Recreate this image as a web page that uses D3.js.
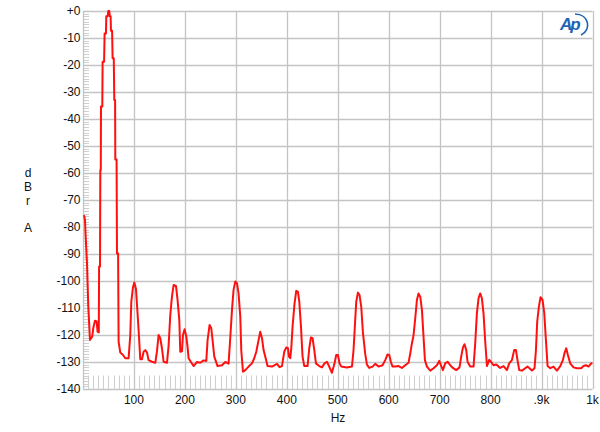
<!DOCTYPE html>
<html>
<head>
<meta charset="utf-8">
<script src="https://cdn.jsdelivr.net/npm/d3@7"></script>
<style>
  body { margin: 0; background: #fff; }
  text { font-family: "Liberation Sans", Arial, sans-serif; }
</style>
</head>
<body>
<svg id="chart" width="600" height="432"></svg>
<script>
// Frequencies (Hz) of the trace
const freqs = [2.0,3.9,5.1,7.8,10.4,13.7,18.2,20.2,23.5,26.7,28.6,31.0,31.6,33.4,34.0,34.9,35.3,37.9,38.5,41.4,42.4,45.1,45.7,48.6,49.6,51.6,52.6,54.2,54.9,57.1,58.1,60.4,61.4,63.0,63.4,65.9,66.7,68.9,69.9,73.2,78.5,83.0,89.5,92.8,94.8,98.1,100.7,104.0,106.0,109.1,112.4,115.8,118.9,122.3,125.6,128.7,135.4,141.9,145.2,148.4,151.7,155.0,158.2,164.8,168.0,171.3,174.6,177.8,182.5,185.6,189.0,190.9,194.3,196.2,199.4,202.7,205.3,207.2,211.9,217.0,223.7,230.2,236.7,242.0,244.5,248.4,251.8,254.3,257.7,264.1,272.8,279.2,285.7,289.0,292.4,295.5,298.9,302.2,305.3,308.7,310.6,314.0,318.5,325.0,331.6,336.1,340.1,344.6,347.9,351.3,354.4,357.7,362.2,370.9,380.7,385.8,390.5,395.0,398.9,402.3,404.2,406.8,408.8,411.3,415.2,418.6,421.9,424.5,427.8,430.9,434.3,440.7,444.1,447.4,450.6,453.9,457.2,463.7,469.0,474.1,478.8,483.3,488.6,493.7,497.0,500.4,503.5,506.9,518.0,527.9,531.0,534.3,536.3,539.6,542.8,546.1,549.4,553.9,557.3,561.8,568.3,573.6,580.1,587.9,593.2,597.7,601.1,604.4,607.5,612.8,619.3,626.0,632.4,638.9,642.3,645.6,648.7,652.1,655.4,658.5,661.9,665.2,668.4,671.1,675.0,681.5,688.0,694.6,699.2,702.5,706.4,710.9,715.5,720.8,726.0,732.5,739.0,742.3,745.7,748.8,752.2,754.7,760.0,766.5,769.8,773.1,776.3,779.6,782.9,786.1,789.4,792.8,797.3,801.2,805.7,811.0,815.5,818.9,825.4,832.0,836.5,841.8,846.3,849.7,852.8,856.2,861.4,867.9,872.4,876.4,881.1,886.2,889.0,891.5,894.8,898.0,901.9,905.3,908.6,911.8,917.1,923.5,930.1,936.7,941.9,945.1,948.4,951.7,956.2,962.7,969.4,977.8,982.3,987.0,992.2,997.4,1000.0];
// Levels (dBrA) of the trace
const levels = [-75.6,-77.4,-83.0,-93.3,-109.5,-121.8,-120.5,-117.4,-114.7,-115.0,-118.8,-119.0,-94.6,-94.6,-58.9,-58.9,-35.4,-35.4,-18.8,-18.8,-8.3,-8.3,-1.9,-1.9,0,0,-1.9,-1.9,-7.3,-7.3,-17.5,-17.5,-33.0,-33.0,-55.0,-55.0,-89.8,-89.8,-122.5,-126.5,-127.4,-128.6,-128.6,-120.0,-107.7,-102.3,-100.6,-103.0,-108.9,-118.0,-129.0,-129.0,-126.2,-125.6,-126.5,-129.3,-129.9,-130.3,-126.0,-120.0,-121.2,-125.0,-129.9,-130.3,-124.0,-112.6,-105.8,-101.5,-101.8,-107.0,-114.4,-126.2,-126.0,-120.0,-117.9,-120.5,-124.5,-128.6,-130.0,-131.5,-130.0,-130.3,-129.4,-129.6,-121.9,-116.3,-117.5,-121.9,-128.0,-131.5,-131.2,-130.0,-130.6,-121.2,-110.7,-103.3,-100.2,-100.8,-104.6,-113.2,-125.6,-133.6,-133.0,-131.7,-130.5,-128.6,-126.2,-121.9,-118.8,-121.2,-125.6,-128.0,-131.5,-131.7,-130.7,-131.9,-131.5,-126.2,-124.6,-124.9,-128.0,-128.6,-124.9,-116.9,-108.3,-103.6,-104.0,-107.6,-116.9,-128.0,-131.5,-131.5,-124.9,-120.9,-121.2,-125.5,-130.5,-131.5,-132.0,-130.5,-129.9,-131.7,-134.0,-130.5,-127.4,-127.4,-130.5,-131.7,-132.0,-131.7,-125.5,-114.4,-107.7,-104.3,-105.2,-109.5,-119.0,-127.0,-131.0,-132.2,-131.7,-130.7,-131.7,-131.2,-129.3,-127.2,-127.4,-130.0,-131.7,-131.7,-131.5,-132.2,-131.2,-130.3,-126.8,-123.1,-120.2,-113.8,-107.0,-104.6,-105.8,-110.6,-120.8,-129.3,-131.7,-133.2,-132.3,-131.2,-129.6,-131.2,-133.0,-130.5,-129.9,-131.2,-132.2,-133.0,-132.0,-128.0,-124.6,-123.4,-125.6,-129.9,-131.7,-131.7,-123.1,-112.0,-106.4,-104.6,-106.4,-112.0,-122.2,-131.5,-129.2,-130.0,-131.2,-130.9,-131.7,-132.2,-131.5,-133.0,-130.5,-129.3,-125.6,-125.6,-129.3,-133.0,-133.2,-132.3,-131.7,-132.3,-133.2,-132.3,-125.6,-115.0,-109.5,-106.0,-107.0,-111.8,-121.9,-131.5,-132.3,-131.7,-133.2,-131.5,-129.3,-126.7,-124.9,-127.4,-130.5,-132.0,-132.3,-132.3,-131.5,-131.2,-131.7,-130.5,-130.5];

const yTicks = [0,-10,-20,-30,-40,-50,-60,-70,-80,-90,-100,-110,-120,-130,-140];
const yTickLabels = ["+0","-10","-20","-30","-40","-50","-60","-70","-80","-90","-100","-110","-120","-130","-140"];
const xTicks = [100,200,300,400,500,600,700,800,900,1000];
const xTickLabels = ["100","200","300","400","500","600","700","800",".9k","1k"];
const yLabelLetters = ["d","B","r","","A"];
const xLabel = "Hz";

const svg = d3.select("#chart");
const pL = 83, pR = 592.5, pT = 11, pB = 389;
const x = d3.scaleLinear().domain([0, 1000]).range([pL, pR]);
const y = d3.scaleLinear().domain([-140, 0]).range([pB, pT]);

const gridColor = "#c4c4c4";

// minor ticks on left (every 1 dB)
const g = svg.append("g");
g.selectAll(".ym").data(d3.range(-140, 1, 1).filter(v => v % 10 !== 0))
  .join("line")
  .attr("x1", pL).attr("x2", pL + 6)
  .attr("y1", d => Math.round(y(d)) + 0.5).attr("y2", d => Math.round(y(d)) + 0.5)
  .attr("stroke", "#cfcfcf").attr("stroke-width", 1);

// minor ticks on bottom (every 10 Hz)
g.selectAll(".xm").data(d3.range(10, 1000, 10).filter(v => v % 100 !== 0))
  .join("line")
  .attr("x1", d => Math.round(x(d)) + 0.5).attr("x2", d => Math.round(x(d)) + 0.5)
  .attr("y1", y(-135)).attr("y2", pB)
  .attr("stroke", "#cfcfcf").attr("stroke-width", 1);

// grid
g.selectAll(".yg").data(yTicks)
  .join("line")
  .attr("x1", pL).attr("x2", pR)
  .attr("y1", d => Math.round(y(d)) + 0.5).attr("y2", d => Math.round(y(d)) + 0.5)
  .attr("stroke", gridColor).attr("stroke-width", 1.3);
g.selectAll(".xg").data([0].concat(xTicks))
  .join("line")
  .attr("x1", d => Math.round(x(d)) + 0.5).attr("x2", d => Math.round(x(d)) + 0.5)
  .attr("y1", pT).attr("y2", pB)
  .attr("stroke", gridColor).attr("stroke-width", 1.3);

// y tick labels
svg.selectAll(".yl").data(yTicks)
  .join("text")
  .attr("x", 80.5).attr("y", d => y(d))
  .attr("dy", "0.36em")
  .attr("text-anchor", "end")
  .attr("font-size", 12)
  .attr("fill", "#111")
  .text((d, i) => yTickLabels[i]);

// x tick labels
svg.selectAll(".xl").data(xTicks)
  .join("text")
  .attr("x", d => x(d)).attr("y", 404)
  .attr("text-anchor", "middle")
  .attr("font-size", 12)
  .attr("fill", "#111")
  .text((d, i) => xTickLabels[i]);

// axis titles
svg.selectAll(".ylt").data(yLabelLetters)
  .join("text")
  .attr("x", 28).attr("y", (d, i) => 177 + i * 13.8)
  .attr("text-anchor", "middle")
  .attr("font-size", 12)
  .attr("fill", "#111")
  .text(d => d);
svg.append("text")
  .attr("x", 338).attr("y", 421.5)
  .attr("text-anchor", "middle")
  .attr("font-size", 12)
  .attr("fill", "#111")
  .text(xLabel);

// trace
const data = freqs.map((f, i) => [f, levels[i]]);
svg.append("path")
  .datum(data)
  .attr("fill", "none")
  .attr("stroke", "#ff1010")
  .attr("stroke-width", 2)
  .attr("stroke-linejoin", "round")
  .attr("d", d3.line().x(d => x(d[0])).y(d => y(d[1])));

// Ap logo
const logo = svg.append("g").attr("transform", "translate(559,13)");
logo.append("text")
  .attr("x", 1).attr("y", 17)
  .attr("font-size", 17)
  .attr("font-style", "italic")
  .attr("font-weight", "bold")
  .attr("fill", "#1f63b5")
  .attr("letter-spacing", -2)
  .text("Ap");
logo.append("path")
  .attr("d", "M16,1 C30,1 33,17 22,22")
  .attr("fill", "none")
  .attr("stroke", "#1f63b5")
  .attr("stroke-width", 1.6);
</script>
</body>
</html>
